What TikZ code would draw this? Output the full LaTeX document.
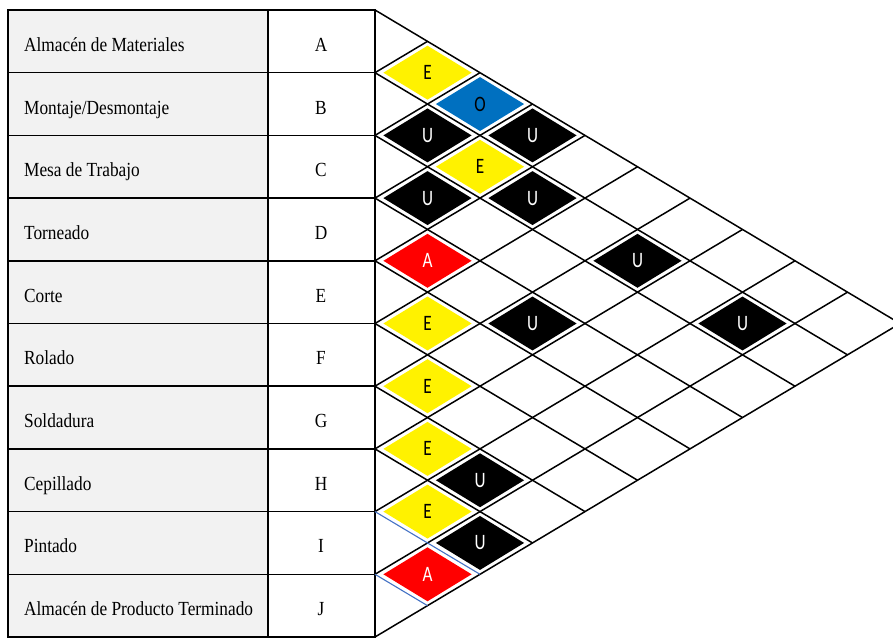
\documentclass[tikz,border=0pt]{standalone}
\usepackage{fontspec}
\setmainfont{Liberation Serif}
\newfontfamily\cellfont{Carlito}
\usepackage{tikz}
\usetikzlibrary{calc}

\definecolor{namegray}{RGB}{242,242,242}
\definecolor{relblue}{RGB}{0,112,192}
\definecolor{lineblue}{RGB}{68,114,196}

\tikzset{
  table line/.style={line width=1.6pt},
  grid line/.style={line width=1.5pt},
  name text/.style={anchor=base west, xscale=0.865, inner sep=0pt, font=\fontsize{20}{24}\selectfont},
  code text/.style={anchor=base, xscale=0.865, inner sep=0pt, font=\fontsize{20}{24}\selectfont},
  letter/.style={inner sep=0pt, xscale=0.78, font=\cellfont\fontsize{22}{24}\selectfont},
  % closeness ratings
  rateA/.style={fill=red},      rateAtxt/.style={letter, text=white},
  rateE/.style={fill=yellow},   rateEtxt/.style={letter, text=black},
  rateO/.style={fill=relblue},  rateOtxt/.style={letter, text=black},
  rateU/.style={fill=black},    rateUtxt/.style={letter, text=white},
}

\begin{document}
\begin{tikzpicture}[x=1pt, y=1pt]
    \useasboundingbox (0,0) rectangle (893,637);
    \clip (0,0) rectangle (893,637);

    % activity table
    \fill[namegray] (8,0) rectangle (268,627);
    \draw[table line] (8,0) rectangle (375,627);
    \draw[table line] (268,0) -- (268,627);
    \foreach \k in {1,...,9}
        \draw[table line] (8,{62.7*\k}) -- (375,{62.7*\k});

    \foreach \k/\nm/\lt in {0/{Almacén de Materiales}/A, 1/{Montaje/Desmontaje}/B,
        2/{Mesa de Trabajo}/C, 3/{Torneado}/D, 4/{Corte}/E, 5/{Rolado}/F,
        6/{Soldadura}/G, 7/{Cepillado}/H, 8/{Pintado}/I,
        9/{Almacén de Producto Terminado}/J} {
        \node[name text] (n\lt) at (24, {62.7*(9-\k)+21.35}) {\nm};
        \node[code text] (c\lt) at (321, {62.7*(9-\k)+21.35}) {\lt};
    }

    % relationship chart
    \begin{scope}[shift={(375,0)}, x=52.5pt, y=31.35pt]
        \draw[grid line] (0,0) -- (0,20);
        \draw[grid line] (0,20) -- (10,10) -- (0,0);
        \foreach \m in {1,...,9}
            \draw[grid line] (0,2*\m) -- ({10-\m},{10+\m});
        \foreach \m in {1,...,7}
            \draw[grid line] (0,{20-2*\m}) -- ({10-\m},{10-\m});
        \foreach \m in {8,9}
            \draw[grid line, lineblue, line width=1.1pt] (0,{20-2*\m}) -- ({10-\m},{10-\m});

        \foreach \i/\j/\r in {0/1/E, 0/2/O, 1/2/U, 0/3/U, 1/3/E, 2/3/U, 1/4/U,
            3/4/A, 1/6/U, 4/5/E, 3/6/U, 1/8/U, 5/6/E, 6/7/E, 6/8/U, 7/8/E,
            7/9/U, 8/9/A} {
            \fill[rate\r] ({\j-\i-0.84},{19-\i-\j}) -- ++(0.84,0.86)
                -- ++(0.84,-0.86) -- ++(-0.84,-0.86) -- cycle;
            \node[rate\r txt] (r\i\j) at ({\j-\i},{19-\i-\j}) {\r};
        }
    \end{scope}
\end{tikzpicture}
\end{document}
